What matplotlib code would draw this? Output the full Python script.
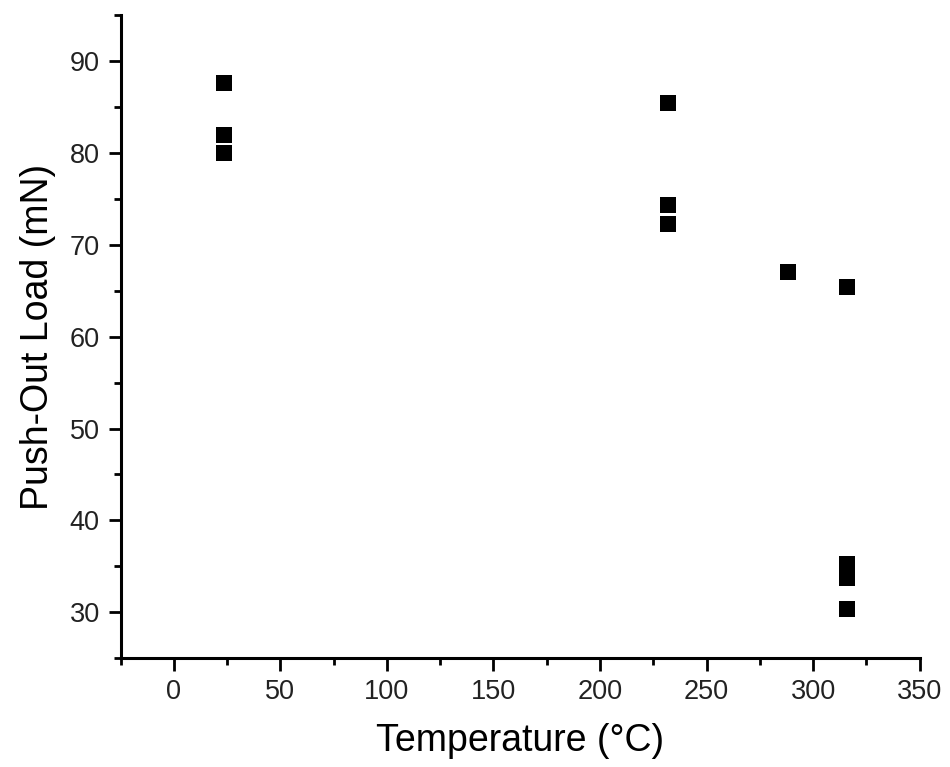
import numpy as np
import matplotlib.pyplot as plt
from matplotlib.ticker import MultipleLocator

# Данные
temperature = [23.5, 23.5, 23.5, 232, 232, 232, 288, 316, 316, 316, 316]
push_out_load = [87.6, 82.0, 80.0, 85.5, 74.3, 72.3, 67.1, 65.4, 35.3, 33.7, 30.3]

x_ticks = [0, 50, 100, 150, 200, 250, 300, 350]
y_ticks = [30, 40, 50, 60, 70, 80, 90]

plt.rcParams['font.family'] = ['Liberation Sans', 'DejaVu Sans']

fig = plt.figure(figsize=(9.5, 7.67), dpi=100)
ax = fig.add_axes([0.127, 0.142, 0.841, 0.838])

ax.plot(temperature, push_out_load, 's', color='black', markersize=12,
        markeredgewidth=0, linestyle='none')

ax.set_xlim(-25, 350)
ax.set_ylim(25, 95)
ax.set_xticks(x_ticks)
ax.set_yticks(y_ticks)
ax.xaxis.set_minor_locator(MultipleLocator(25))
ax.yaxis.set_minor_locator(MultipleLocator(5))

for side in ['top', 'right']:
    ax.spines[side].set_visible(False)
for side in ['left', 'bottom']:
    ax.spines[side].set_linewidth(2.2)

ax.tick_params(which='major', direction='out', length=9, width=2, labelsize=19.5,
               pad=6, labelcolor='#222222')
ax.tick_params(which='minor', direction='out', length=5, width=2)

ax.set_xlabel('Temperature (°C)', fontsize=27, labelpad=13)
ax.set_ylabel('Push-Out Load (mN)', fontsize=27, labelpad=10)

fig.savefig('out.png', dpi=100)
